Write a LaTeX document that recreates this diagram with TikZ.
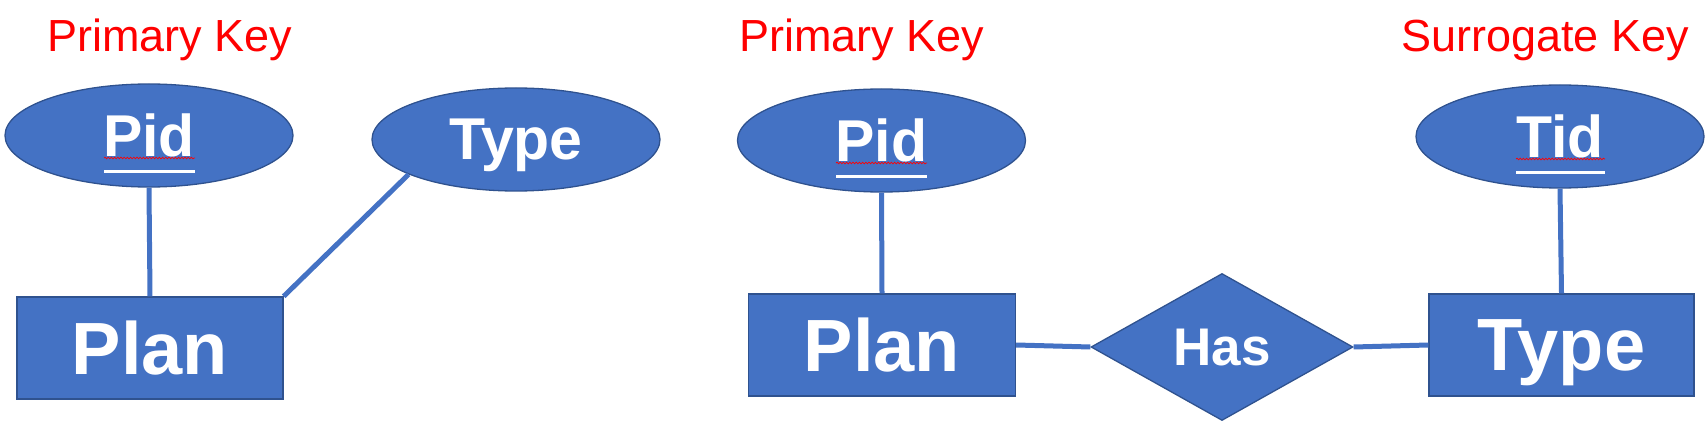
\documentclass[tikz,border=0pt]{standalone}
\usepackage{fontspec}
\setmainfont{Liberation Sans}
\usetikzlibrary{shapes.geometric,decorations.pathmorphing}
\definecolor{erfill}{HTML}{4472C4}
\definecolor{erborder}{HTML}{2F528F}
\begin{document}
\begin{tikzpicture}[x=1pt,y=-1pt,
  base/.style={draw=erborder,line width=1.3pt,fill=erfill,inner sep=0pt,text=white,text depth=0pt},
  entity/.style={base,rectangle,minimum width=266pt,minimum height=102pt,font=\bfseries\fontsize{74}{74}\selectfont},
  attr/.style={base,ellipse,minimum width=288pt,minimum height=103pt,font=\bfseries\fontsize{59}{59}\selectfont},
  rel/.style={base,diamond,minimum width=262pt,minimum height=147pt,font=\bfseries\fontsize{53}{53}\selectfont},
  keylabel/.style={text=red,anchor=base,inner sep=0pt,font=\fontsize{45}{45}\selectfont},
  conn/.style={draw=erfill,line width=5pt},
  uline/.style={white,line width=3.5pt},
  squig/.style={red,line width=0.7pt,decorate,decoration={snake,amplitude=0.8pt,segment length=3.2pt}}
]
\useasboundingbox (0,0) rectangle (1705,430);

% left part
\node[keylabel] (pk1) at (170,52) {Primary Key};
\node[attr] (pid1) at (149,135.5) {Pid};
\node[attr] (type1) at (516,139.5) {Type};
\node[entity] (plan1) at (150,348) {Plan};
\draw[squig] (104,158) -- (195,158);
\draw[uline] (104,171.5) -- (195,171.5);
\draw[conn] (pid1.south) -- (plan1.north);
\draw[conn] (type1.198) -- (plan1.north east);

% right part
\node[keylabel] (pk2) at (862,52) {Primary Key};
\node[keylabel] (sk) at (1545,52) {Surrogate Key};
\node[attr] (pid2) at (881.5,140.5) {Pid};
\node[attr] (tid) at (1560,136.5) {Tid};
\node[entity,minimum width=267pt] (plan2) at (882,345) {Plan};
\node[entity,minimum width=265pt] (type2) at (1561.5,345) {Type};
\node[rel] (has) at (1222,347) {Has};
\draw[squig] (836,163) -- (927,163);
\draw[uline] (836,176.5) -- (927,176.5);
\draw[squig] (1516,159) -- (1605,159);
\draw[uline] (1516,172.5) -- (1605,172.5);
\draw[conn] (pid2.south) -- (plan2.north);
\draw[conn] (tid.south) -- (type2.north);
\draw[conn] (plan2.east) -- (has.west);
\draw[conn] (has.east) -- (type2.west);
\end{tikzpicture}
\end{document}
